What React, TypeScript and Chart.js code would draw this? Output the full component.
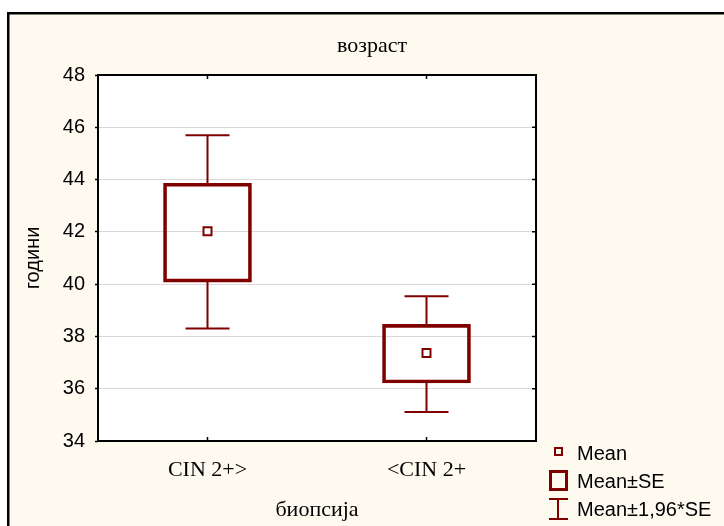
import { useEffect, useRef } from "react";
import { Chart, registerables } from "chart.js";

Chart.register(...registerables);

// Age by biopsy group: mean, mean ± SE and mean ± 1.96·SE
const groups = ["CIN 2+>", "<CIN 2+"];
const means = [42.02, 37.37];
const seLow = [40.08, 36.22];
const seHigh = [43.86, 38.46];
const ciLow = [38.3, 35.11];
const ciHigh = [45.7, 39.54];
const yTicks = [34, 36, 38, 40, 42, 44, 46, 48];
const legendLabels = ["Mean", "Mean±SE", "Mean±1,96*SE"];
const chartTitle = "возраст";
const xTitle = "биопсија";
const yTitle = "години";

const DARK_RED = "#800000";
const CREAM = "#fffaf0";
const SERIF = "'Liberation Serif', 'Times New Roman', serif";
const SANS = "'Liberation Sans', Arial, sans-serif";

const framePlugin = {
  id: "statFrame",
  beforeDraw(chart: any) {
    const { ctx, width, height, chartArea: a } = chart;
    ctx.save();
    ctx.fillStyle = "#ffffff";
    ctx.fillRect(0, 0, width, height);
    ctx.fillStyle = CREAM;
    ctx.fillRect(7, 12, width, height);
    ctx.strokeStyle = "#000";
    ctx.lineWidth = 2.5;
    ctx.beginPath();
    ctx.moveTo(8.25, height + 5);
    ctx.lineTo(8.25, 13.25);
    ctx.lineTo(width + 5, 13.25);
    ctx.stroke();
    ctx.fillStyle = "#ffffff";
    ctx.fillRect(a.left, a.top, a.right - a.left, a.bottom - a.top);
    // chart title
    ctx.fillStyle = "#000";
    ctx.font = `22px ${SERIF}`;
    ctx.textAlign = "center";
    ctx.textBaseline = "alphabetic";
    ctx.fillText(chartTitle, 372, 52);
    ctx.restore();
  },
  afterDatasetsDraw(chart: any) {
    const { ctx } = chart;
    const x = chart.scales.x;
    const y = chart.scales.y;
    ctx.save();
    ctx.strokeStyle = DARK_RED;
    ctx.lineWidth = 2;
    groups.forEach((_, i) => {
      const cx = x.getPixelForValue(i);
      const cap = 22;
      const yTop = y.getPixelForValue(ciHigh[i]);
      const yBot = y.getPixelForValue(ciLow[i]);
      const yBoxTop = y.getPixelForValue(seHigh[i]);
      const yBoxBot = y.getPixelForValue(seLow[i]);
      ctx.beginPath();
      ctx.moveTo(cx, yBoxTop);
      ctx.lineTo(cx, yTop);
      ctx.moveTo(cx - cap, yTop);
      ctx.lineTo(cx + cap, yTop);
      ctx.moveTo(cx, yBoxBot);
      ctx.lineTo(cx, yBot);
      ctx.moveTo(cx - cap, yBot);
      ctx.lineTo(cx + cap, yBot);
      ctx.stroke();
    });
    ctx.restore();
  },
  afterDraw(chart: any) {
    const { ctx, chartArea: a } = chart;
    const x = chart.scales.x;
    const y = chart.scales.y;
    ctx.save();
    ctx.strokeStyle = "#000";
    ctx.lineWidth = 2;
    ctx.strokeRect(a.left, a.top, a.right - a.left, a.bottom - a.top);
    ctx.lineWidth = 1.5;
    ctx.beginPath();
    yTicks.forEach((v) => {
      const py = y.getPixelForValue(v);
      ctx.moveTo(a.right, py);
      ctx.lineTo(a.right - 4, py);
    });
    groups.forEach((_, i) => {
      const px = x.getPixelForValue(i);
      ctx.moveTo(px, a.top);
      ctx.lineTo(px, a.top + 4);
      ctx.moveTo(px, a.bottom);
      ctx.lineTo(px, a.bottom - 4);
    });
    ctx.stroke();

    // legend
    const lx = a.right + 22;
    ctx.strokeStyle = DARK_RED;
    ctx.lineWidth = 2;
    ctx.strokeRect(lx - 3, 448, 7, 7);
    ctx.lineWidth = 3;
    ctx.strokeRect(lx - 7.5, 471.5, 16, 18);
    ctx.lineWidth = 2;
    ctx.beginPath();
    ctx.moveTo(lx, 499);
    ctx.lineTo(lx, 519);
    ctx.moveTo(lx - 9, 499);
    ctx.lineTo(lx + 10, 499);
    ctx.moveTo(lx - 9, 519);
    ctx.lineTo(lx + 10, 519);
    ctx.stroke();
    ctx.fillStyle = "#000";
    ctx.font = `20px ${SANS}`;
    ctx.textAlign = "left";
    ctx.textBaseline = "alphabetic";
    const ys = [460, 488, 516];
    legendLabels.forEach((t, i) => ctx.fillText(t, lx + 19, ys[i]));
    ctx.restore();
  },
};

export default function App() {
  const ref = useRef<HTMLCanvasElement | null>(null);

  useEffect(() => {
    if (!ref.current) return;
    const chart = new Chart(ref.current, {
      type: "bar",
      data: {
        labels: groups,
        datasets: [
          {
            type: "line",
            label: legendLabels[0],
            data: means,
            showLine: false,
            pointStyle: "rect",
            pointRadius: 5.66,
            pointBorderWidth: 2,
            pointBorderColor: DARK_RED,
            pointBackgroundColor: "#ffffff",
            order: 0,
          } as any,
          {
            type: "bar",
            label: legendLabels[1],
            data: groups.map((_, i) => [seLow[i], seHigh[i]]),
            backgroundColor: "rgba(0,0,0,0)",
            borderColor: DARK_RED,
            borderWidth: 3,
            borderSkipped: false,
            barThickness: 88,
            order: 1,
          } as any,
        ],
      },
      options: {
        responsive: false,
        animation: false,
        events: [],
        layout: { padding: { left: 8, right: 188, top: 75, bottom: 0 } },
        plugins: {
          legend: { display: false },
          title: { display: false },
          tooltip: { enabled: false },
        },
        scales: {
          x: {
            type: "category",
            offset: true,
            grid: { display: false },
            border: { display: false },
            ticks: { color: "#000", font: { family: SERIF, size: 22 }, padding: 8 },
            title: {
              display: true,
              text: xTitle,
              color: "#000",
              font: { family: SERIF, size: 22 },
              padding: { top: 0, bottom: 3 },
            },
            afterFit: (s: any) => {
              s.height = 85;
            },
          },
          y: {
            type: "linear",
            min: 34,
            max: 48,
            afterBuildTicks: (s: any) => {
              s.ticks = yTicks.map((v) => ({ value: v }));
            },
            grid: {
              color: "#d9d9d9",
              lineWidth: 1,
              drawTicks: true,
              tickLength: 3,
              tickColor: "#000",
              tickWidth: 1.5,
            },
            border: { display: false },
            ticks: { color: "#000", font: { family: SANS, size: 20 }, padding: 10 },
            title: {
              display: true,
              text: yTitle,
              color: "#000",
              font: { family: SANS, size: 20 },
              padding: { top: 13, bottom: 0 },
            },
            afterFit: (s: any) => {
              s.width = 90;
            },
          },
        },
      },
      plugins: [framePlugin],
    });
    return () => chart.destroy();
  }, []);

  return (
    <div style={{ position: "absolute", left: 0, top: 0, width: 724, height: 526 }}>
      <canvas ref={ref} width={724} height={526} style={{ display: "block" }} />
    </div>
  );
}
